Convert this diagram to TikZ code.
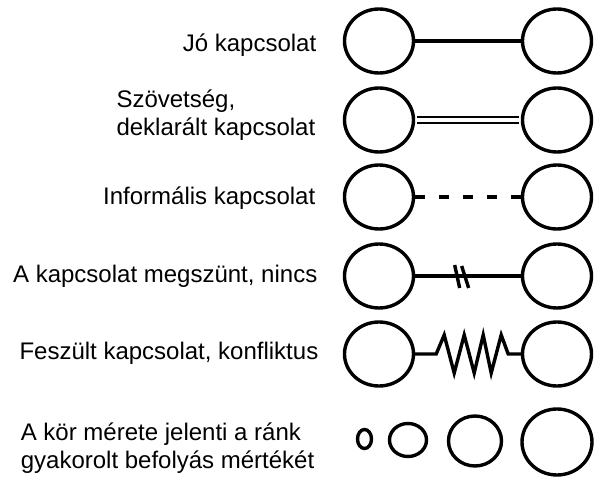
\documentclass[tikz,border=0pt]{standalone}
\usepackage{fontspec}
\setmainfont{Liberation Sans}
\usetikzlibrary{shapes.geometric}

\begin{document}
\begin{tikzpicture}[
  x=1pt, y=-1pt,
  font=\fontsize{24}{27.5}\selectfont,
  line width=3.4pt,
  ring/.style={draw, ellipse, inner sep=0pt, minimum width=69pt, minimum height=64pt},
  legendtext/.style={anchor=base east, inner sep=0pt},
]
\useasboundingbox (0,0) rectangle (595,478);

% --- Legend texts ----------------------------------------------------
\node[legendtext] (t1) at (318,52) {Jó kapcsolat};
\node[legendtext, anchor=east, align=left] (t2) at (317,115) {Szövetség,\\deklarált kapcsolat};
\node[legendtext] (t3) at (317,205) {Informális kapcsolat};
\node[legendtext] (t4) at (319,283) {A kapcsolat megszünt, nincs};
\node[legendtext] (t5) at (320,360) {Feszült kapcsolat, konfliktus};
\node[legendtext, anchor=east, align=left] (t6) at (316,448) {A kör mérete jelenti a ránk\\gyakorolt befolyás mértékét};

% --- Circle pairs, one row per relation ---------------------------
\foreach \r/\y in {1/41, 2/120, 3/197, 4/276, 5/354} {
  \node[ring] (a\r) at (379,\y) {};
  \node[ring] (b\r) at (557,\y) {};
}

% Relations between the pairs
\draw (a1) -- (b1);
\draw[double, line width=2.4pt, double distance=3.6pt, shorten <=1.7pt, shorten >=1.7pt] (a2) -- (b2);
\draw[dash pattern=on 10pt off 14pt] (a3) -- (b3);
\draw (a4) -- (b4) coordinate[pos=0.44] (cut);
\draw ([shift={(-7,-11)}]cut) -- ([shift={(-2,12)}]cut);
\draw ([shift={(0,-10)}]cut) -- ([shift={(7,12)}]cut);
\draw (a5.east) -- ++(21,0) -- ++(8,-19) -- ++(10,38) -- ++(10,-38) -- ++(10,38)
  -- ++(9,-38) -- ++(8,38) -- ++(10,-38) -- ++(7,19) -- (b5.west);

% Circle sizes (influence)
\node[ring, minimum width=14pt, minimum height=19pt] (s1) at (364.5,439) {};
\node[ring, minimum width=37pt, minimum height=33pt] (s2) at (408,440) {};
\node[ring, minimum width=53pt, minimum height=50pt] (s3) at (475,441) {};
\node[ring, minimum width=70pt, minimum height=66pt] (s4) at (557,442) {};
\end{tikzpicture}
\end{document}
